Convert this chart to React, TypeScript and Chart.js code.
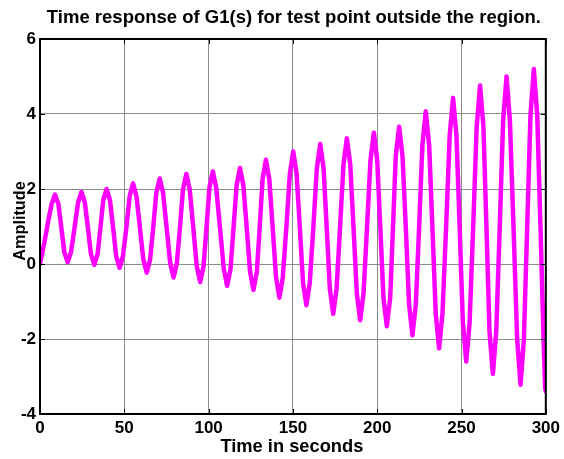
import React, { useEffect, useRef } from "react";
import { Chart, registerables } from "chart.js";

Chart.register(...registerables);

const chartTitle = "Time response of G1(s) for test point outside the region.";
const xAxisLabel = "Time in seconds";
const yAxisLabel = "Amplitude";
const xTicks = [0, 50, 100, 150, 200, 250, 300];
const yTicks = [-4, -2, 0, 2, 4, 6];

const timeSeconds = [
  0, 2.5, 4.9, 6.9, 8.9, 10.9, 12.65, 14.4, 16.4, 18.4, 20.5, 22.6, 24.6, 26.6, 28.4, 30.2,
  32.2, 34.2, 35.85, 37.5, 39.5, 41.5, 43.35, 45.2, 47.2, 49.2, 51.2, 53.2, 55.2, 57.2, 59.25, 61.3,
  63.3, 65.3, 67.15, 69.0, 71.0, 73.0, 75.1, 77.2, 79.2, 81.2, 83.0, 84.8, 86.8, 88.8, 90.9, 93.0,
  95.0, 97.0, 98.75, 100.5, 102.5, 104.5, 106.75, 109.0, 111.0, 113.0, 114.8, 116.6, 118.6, 120.6, 122.6, 124.6,
  126.6, 128.6, 130.3, 132.0, 134.0, 136.0, 138.0, 140.0, 142.0, 144.0, 146.1, 148.2, 150.2, 152.2, 154.1, 156.0,
  158.0, 160.0, 162.1, 164.2, 166.2, 168.2, 170.05, 171.9, 173.9, 175.9, 177.95, 180.0, 182.0, 184.0, 185.95, 187.9,
  189.9, 191.9, 193.95, 196.0, 198.0, 200.0, 201.85, 203.7, 205.7, 207.7, 209.35, 211.0, 213.0, 215.0, 216.95, 218.9,
  220.9, 222.9, 224.85, 226.8, 228.8, 230.8, 232.75, 234.7, 236.7, 238.7, 240.85, 243.0, 245.0, 247.0, 248.9, 250.8,
  252.8, 254.8, 256.9, 259.0, 261.0, 263.0, 264.8, 266.6, 268.6, 270.6, 272.65, 274.7, 276.7, 278.7, 280.85, 283.0,
  285.0, 287.0, 288.95, 290.9, 292.9, 294.9, 296.85, 298.8, 299.6, 300
];

const amplitude = [
  0, 0.55, 1.15, 1.6, 1.85, 1.6, 0.97, 0.32, 0.05, 0.32, 0.97, 1.64, 1.92, 1.64, 0.97, 0.27,
  -0.02, 0.27, 0.97, 1.7, 2.0, 1.7, 0.97, 0.21, -0.1, 0.21, 0.97, 1.81, 2.15, 1.81, 0.97, 0.12,
  -0.23, 0.12, 0.97, 1.9, 2.28, 1.9, 0.97, 0.03, -0.36, 0.03, 0.97, 1.99, 2.4, 1.99, 0.97, -0.06,
  -0.48, -0.06, 0.97, 2.04, 2.47, 2.04, 0.97, -0.13, -0.58, -0.13, 0.97, 2.1, 2.56, 2.1, 0.97, -0.21,
  -0.69, -0.21, 0.97, 2.26, 2.78, 2.26, 0.97, -0.36, -0.9, -0.36, 0.97, 2.41, 3.0, 2.41, 0.97, -0.5,
  -1.1, -0.5, 0.97, 2.55, 3.2, 2.55, 0.97, -0.66, -1.33, -0.66, 0.97, 2.66, 3.35, 2.66, 0.97, -0.78,
  -1.5, -0.78, 0.97, 2.77, 3.5, 2.77, 0.97, -0.9, -1.66, -0.9, 0.97, 2.88, 3.66, 2.88, 0.97, -1.07,
  -1.9, -1.07, 0.97, 3.17, 4.07, 3.17, 0.97, -1.32, -2.25, -1.32, 0.97, 3.43, 4.43, 3.43, 0.97, -1.56,
  -2.6, -1.56, 0.97, 3.66, 4.76, 3.66, 0.97, -1.8, -2.93, -1.8, 0.97, 3.83, 5.0, 3.83, 0.97, -2.0,
  -3.22, -2.0, 0.97, 3.97, 5.2, 3.97, 0.97, -2.2, -3.3, -3.4
];

const FONT = '"Liberation Sans", Arial, sans-serif';

const framePlugin = {
  id: "matlabFrame",
  afterDatasetsDraw(chart: any) {
    const { ctx, chartArea, scales } = chart;
    const { left, right, top, bottom } = chartArea;
    ctx.save();
    ctx.strokeStyle = "#000";
    ctx.lineWidth = 1;
    const tl = 5;
    ctx.beginPath();
    scales.x.ticks.forEach((t: any) => {
      const px = Math.round(scales.x.getPixelForValue(t.value)) + 0.5;
      ctx.moveTo(px, bottom);
      ctx.lineTo(px, bottom - tl);
      ctx.moveTo(px, top);
      ctx.lineTo(px, top + tl);
    });
    scales.y.ticks.forEach((t: any) => {
      const py = Math.round(scales.y.getPixelForValue(t.value)) + 0.5;
      ctx.moveTo(left, py);
      ctx.lineTo(left + tl, py);
      ctx.moveTo(right, py);
      ctx.lineTo(right - tl, py);
    });
    ctx.stroke();
    ctx.lineWidth = 2;
    ctx.strokeRect(left, top, right - left, bottom - top);
    ctx.restore();
  },
  afterDraw(chart: any) {
    const { ctx, chartArea } = chart;
    const cx = (chartArea.left + chartArea.right) / 2;
    ctx.save();
    ctx.fillStyle = "#000";
    ctx.textAlign = "center";
    ctx.textBaseline = "alphabetic";
    ctx.font = `bold 18.5px ${FONT}`;
    ctx.fillText(chartTitle, cx + 1, 23);
    ctx.font = `bold 18.3px ${FONT}`;
    ctx.fillText(xAxisLabel, cx - 1, 452);
    ctx.translate(25, 221);
    ctx.rotate(-Math.PI / 2);
    ctx.font = `bold 16.3px ${FONT}`;
    ctx.fillText(yAxisLabel, 0, 0);
    ctx.restore();
  },
};

export default function App() {
  const canvasRef = useRef<HTMLCanvasElement | null>(null);

  useEffect(() => {
    if (!canvasRef.current) return;
    const points = timeSeconds.map((t, i) => ({ x: t, y: amplitude[i] }));
    const chart = new Chart(canvasRef.current, {
      type: "line",
      data: {
        datasets: [
          {
            data: points,
            borderColor: "#ff00ff",
            borderWidth: 4.5,
            pointRadius: 0,
            tension: 0,
            fill: false,
            borderJoinStyle: "round",
            borderCapStyle: "round",
          } as any,
        ],
      },
      options: {
        animation: false,
        responsive: false,
        devicePixelRatio: 1,
        layout: { padding: { top: 39, right: 17, left: 0, bottom: 0 } },
        plugins: {
          legend: { display: false },
          title: { display: false },
          tooltip: { enabled: false },
        },
        scales: {
          x: {
            type: "linear",
            min: 0,
            max: 300,
            afterBuildTicks: (s: any) => {
              s.ticks = xTicks.map((v) => ({ value: v }));
            },
            afterFit: (s: any) => {
              s.height = 45;
            },
            grid: { color: "#8c8c8c", lineWidth: 1, drawTicks: false },
            border: { display: false },
            ticks: {
              padding: 4,
              color: "#000",
              maxRotation: 0,
              font: { family: FONT, size: 17, weight: "bold" },
            },
            title: { display: false },
          },
          y: {
            type: "linear",
            min: -4,
            max: 6,
            afterBuildTicks: (s: any) => {
              s.ticks = yTicks.map((v) => ({ value: v }));
            },
            afterFit: (s: any) => {
              s.width = 40;
            },
            grid: { color: "#8c8c8c", lineWidth: 1, drawTicks: false },
            border: { display: false },
            ticks: {
              padding: 4,
              color: "#000",
              font: { family: FONT, size: 17, weight: "bold" },
            },
            title: { display: false },
          },
        },
      },
      plugins: [framePlugin],
    });
    return () => chart.destroy();
  }, []);

  return (
    <div style={{ position: "absolute", left: 0, top: 0, width: 564, height: 459, background: "#fff" }}>
      <canvas ref={canvasRef} width={564} height={459} style={{ width: 564, height: 459 }} />
    </div>
  );
}
